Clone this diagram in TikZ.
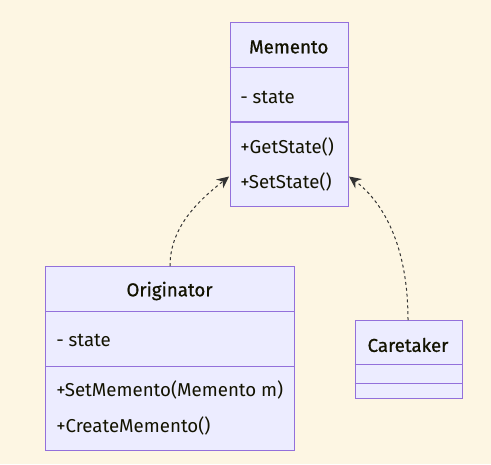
\documentclass[tikz,border=0pt]{standalone}
\usepackage{fontspec}
\setmainfont{Fira Sans}
\newfontfamily\titlefont{Fira Sans}[FakeBold=0.8]
\usetikzlibrary{arrows.meta}
\definecolor{bg}{HTML}{FDF6E3}
\definecolor{boxfill}{HTML}{ECECFF}
\definecolor{boxline}{HTML}{9370DB}
\definecolor{txt}{HTML}{131300}
\definecolor{edge}{HTML}{333333}
\tikzset{
  classbox/.style={draw=boxline, fill=boxfill, line width=0.9pt, inner sep=0pt, anchor=north west},
  divider/.style={draw=boxline, line width=0.9pt},
  member/.style={anchor=west, inner sep=0pt, text=txt, font=\fontsize{14}{16}\selectfont},
  title/.style={anchor=center, inner sep=0pt, text=txt, font=\fontsize{14}{16}\selectfont\titlefont},
  dep/.style={draw=edge, dashed, dash pattern=on 2.2pt off 2.2pt, line width=0.75pt, -{Stealth[length=9pt,width=8.5pt,inset=3pt]}}
}
\begin{document}
\begin{tikzpicture}[x=0.75pt,y=-0.75pt]
\useasboundingbox[fill=bg] (0,0) rectangle (491,464);
% Memento
\node[classbox, minimum width=118.5*0.75pt, minimum height=184*0.75pt] (mem) at (229.5,22) {};
\draw[divider] (229.5,67.5) -- (348,67.5);
\draw[divider] (229.5,122) -- (348,122);
\node[title] (memt) at (288.75,47) {Memento};
\node[member] (mema) at (240,97) {- state};
\node[member] (memm1) at (240,147) {+GetState()};
\node[member] (memm2) at (240,182) {+SetState()};
% Originator
\node[classbox, minimum width=249*0.75pt, minimum height=184*0.75pt] (ori) at (45,266) {};
\draw[divider] (45,311.5) -- (294,311.5);
\draw[divider] (45,366.5) -- (294,366.5);
\node[title] (orit) at (169.5,291) {Originator};
\node[member] (oria) at (56,340) {- state};
\node[member] (orim1) at (56,390) {+SetMemento(Memento m)};
\node[member] (orim2) at (56,426) {+CreateMemento()};
% Caretaker
\node[classbox, minimum width=107*0.75pt, minimum height=77.5*0.75pt] (care) at (354.5,320) {};
\draw[divider] (354.5,364.5) -- (461.5,364.5);
\draw[divider] (354.5,383.5) -- (461.5,383.5);
\node[title] (caret) at (408,345) {Caretaker};
% edges
\coordinate (otop) at (170,266);
\coordinate (ctop) at (408,320);
\coordinate (mleft) at (229,176.5);
\coordinate (mright) at (349,176.5);
\draw[dep] (otop) .. controls (170,225) and (202,198) .. (mleft);
\draw[dep] (ctop) .. controls (408,238) and (378,198) .. (mright);
\end{tikzpicture}
\end{document}
